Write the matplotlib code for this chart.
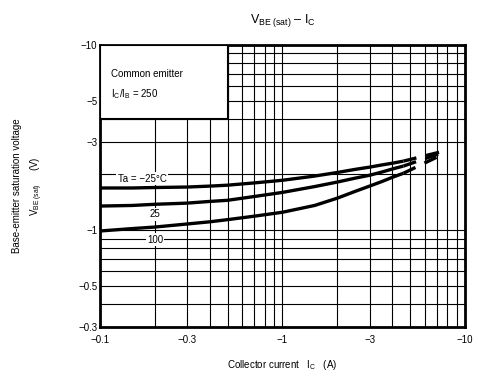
import matplotlib
matplotlib.use("Agg")
import matplotlib.pyplot as plt
from matplotlib.patches import Rectangle
import numpy as np

# collector current |IC| (A) and |VBE(sat)| (V)
ic = [0.1, 0.15, 0.2, 0.3, 0.4, 0.5, 0.7, 1.0, 1.5, 2.0, 2.5, 3.0, 3.5, 4.0, 4.6]
vbe_m25 = [1.69, 1.69, 1.70, 1.71, 1.73, 1.75, 1.80, 1.86, 1.96, 2.05, 2.13, 2.19, 2.25, 2.30, 2.36]
vbe_25 = [1.35, 1.36, 1.38, 1.40, 1.43, 1.45, 1.52, 1.60, 1.72, 1.82, 1.91, 1.98, 2.06, 2.14, 2.22]
vbe_100 = [0.99, 1.02, 1.04, 1.08, 1.11, 1.14, 1.19, 1.25, 1.36, 1.49, 1.62, 1.73, 1.83, 1.93, 2.03]

# dashed extension past the rated range
ic_ext = [4.6, 7.5]
ext_m25 = [2.36, 2.66]
ext_25 = [2.22, 2.62]
ext_100 = [2.03, 2.56]

xticks = [0.1, 0.3, 1, 3, 10]
xlabels = ["\u22120.1", "\u22120.3", "\u22121", "\u22123", "\u221210"]
yticks = [0.3, 0.5, 1, 3, 5, 10]
ylabels = ["\u22120.3", "\u22120.5", "\u22121", "\u22123", "\u22125", "\u221210"]

plt.rcParams['font.family'] = ['Liberation Sans', 'DejaVu Sans']
plt.rcParams['mathtext.fontset'] = 'custom'
plt.rcParams['mathtext.rm'] = 'Liberation Sans'
plt.rcParams['mathtext.it'] = 'Liberation Sans'

fig = plt.figure(figsize=(4.78, 3.90), dpi=100)
ax = fig.add_axes([0.2092, 0.1615, 0.7636, 0.7231])

ax.set_xscale("log")
ax.set_yscale("log")
ax.set_xlim(0.1, 10)
ax.set_ylim(0.3, 10)

ax.grid(True, which="both", color="black", linewidth=0.8, zorder=0)
ax.set_axisbelow(True)

for v in (vbe_m25, vbe_25, vbe_100):
    ax.plot(ic, v, color="black", linewidth=2.4, solid_capstyle="butt",
            solid_joinstyle="round", zorder=3)
for v in (ext_m25, ext_25, ext_100):
    ax.plot(ic_ext, v, color="black", linewidth=2.4, linestyle=(0, (4, 3)), zorder=3)

# condition box in the upper-left corner
box = Rectangle((0.1, 4.0), 0.4, 6.0, facecolor="white", edgecolor="black",
                linewidth=1.5, zorder=4)
ax.add_patch(box)
ax.text(0.115, 7.0, "Common emitter", fontsize=7, zorder=5, va="center")
ax.text(0.115, 5.4, "I$_C$/I$_B$ = 250", fontsize=7, zorder=5, va="center")

bb = dict(facecolor="white", edgecolor="none", pad=1.0)
ax.text(0.17, 1.9, "Ta = \u221225\u00b0C", fontsize=7, ha="center", va="center", bbox=bb, zorder=5)
ax.text(0.2, 1.22, "25", fontsize=7, ha="center", va="center", bbox=bb, zorder=5)
ax.text(0.2, 0.89, "100", fontsize=7, ha="center", va="center", bbox=bb, zorder=5)

ax.set_xticks(xticks)
ax.set_xticklabels(xlabels)
ax.set_yticks(yticks)
ax.set_yticklabels(ylabels)
ax.xaxis.set_minor_formatter(matplotlib.ticker.NullFormatter())
ax.yaxis.set_minor_formatter(matplotlib.ticker.NullFormatter())
ax.tick_params(which="both", length=0, labelsize=7, pad=2)
ax.tick_params(axis="x", pad=6)

for s in ax.spines.values():
    s.set_linewidth(2.0)

ax.set_title("V$_{BE\\ (sat)}$ \u2013 I$_C$", fontsize=9, pad=16)
ax.set_xlabel("Collector current   I$_C$   (A)", fontsize=7, labelpad=9)
ax.set_ylabel("Base-emitter saturation voltage\nV$_{BE\\ (sat)}$     (V)", fontsize=7,
              labelpad=24, linespacing=1.6)

fig.savefig("out.png", dpi=100)
